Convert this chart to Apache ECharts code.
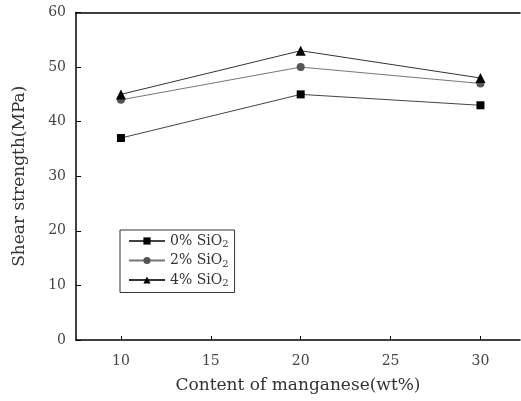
<!DOCTYPE html>
<html>
<head>
<meta charset="utf-8">
<script src="https://cdn.jsdelivr.net/npm/echarts@6/dist/echarts.min.js"></script>
<style>
  html, body { margin: 0; padding: 0; background: #fff; }
  #main { width: 521px; height: 401px; }
</style>
</head>
<body>
<div id="main"></div>
<script>
// manganese content (wt%)
const manganese = [10, 20, 30];
const xTicks = [10, 15, 20, 25, 30];

// shear strength (MPa) for each SiO2 content
const sio2_0 = [37, 45, 43];
const sio2_2 = [44, 50, 47];
const sio2_4 = [45, 53, 48];

const seriesNames = ['0% SiO2', '2% SiO2', '4% SiO2'];

const font = 'DejaVu Serif';

var myChart = echarts.init(document.getElementById('main'));

function pairs(ys) {
  return manganese.map((x, i) => [x, ys[i]]);
}

myChart.setOption({
  animation: false,
  backgroundColor: '#fff',
  textStyle: { fontFamily: font },
  grid: {
    left: 76,
    top: 12.5,
    width: 444,
    bottom: 61
  },
  legend: {
    orient: 'vertical',
    left: 120,
    top: 230,
    width: 114,
    padding: [4, 6, 4, 8],
    itemGap: 4,
    itemWidth: 36,
    itemHeight: 9,
    borderColor: '#333',
    borderWidth: 1,
    borderRadius: 0,
    data: seriesNames,
    formatter: function (name) {
      return '{a|' + name.replace('SiO2', 'SiO') + '}{s|2}';
    },
    textStyle: {
      rich: {
        a: { fontFamily: font, fontSize: 14, color: '#333' },
        s: { fontFamily: font, fontSize: 10, color: '#333', padding: [7, 0, 0, 0] }
      }
    }
  },
  xAxis: [
    {
      type: 'value',
      min: 7.5,
      max: 32.2,
      name: 'Content of manganese(wt%)',
      nameLocation: 'middle',
      nameGap: 37,
      nameTextStyle: { fontFamily: font, fontSize: 17, color: '#333' },
      splitLine: { show: false },
      axisLine: { lineStyle: { color: '#000', width: 1.5 } },
      axisTick: { inside: true, length: 4, customValues: xTicks, lineStyle: { color: '#000' } },
      axisLabel: { customValues: xTicks, margin: 14, fontFamily: font, fontSize: 14, color: '#444' }
    },
    {
      type: 'value',
      position: 'top',
      min: 7.5,
      max: 32.2,
      splitLine: { show: false },
      axisLine: { show: true, lineStyle: { color: '#000', width: 1.5 } },
      axisTick: { show: false },
      axisLabel: { show: false }
    }
  ],
  yAxis: {
    type: 'value',
    min: 0,
    max: 60,
    interval: 10,
    name: 'Shear strength(MPa)',
    nameLocation: 'middle',
    nameGap: 48,
    nameTextStyle: { fontFamily: font, fontSize: 17, color: '#333' },
    splitLine: { show: false },
    axisLine: { show: true, lineStyle: { color: '#000', width: 1.5 } },
    axisTick: { show: true, inside: true, length: 5, lineStyle: { color: '#000' } },
    axisLabel: { margin: 10, fontFamily: font, fontSize: 14, color: '#444' }
  },
  series: [
    {
      name: seriesNames[0],
      type: 'line',
      data: pairs(sio2_0),
      symbol: 'rect',
      symbolSize: 8,
      itemStyle: { color: '#000' },
      lineStyle: { color: '#444', width: 1 }
    },
    {
      name: seriesNames[1],
      type: 'line',
      data: pairs(sio2_2),
      symbol: 'circle',
      symbolSize: 8,
      itemStyle: { color: '#555' },
      lineStyle: { color: '#777', width: 1 }
    },
    {
      name: seriesNames[2],
      type: 'line',
      data: pairs(sio2_4),
      symbol: 'triangle',
      symbolSize: 10,
      itemStyle: { color: '#000' },
      lineStyle: { color: '#333', width: 1 }
    }
  ]
});
</script>
</body>
</html>
